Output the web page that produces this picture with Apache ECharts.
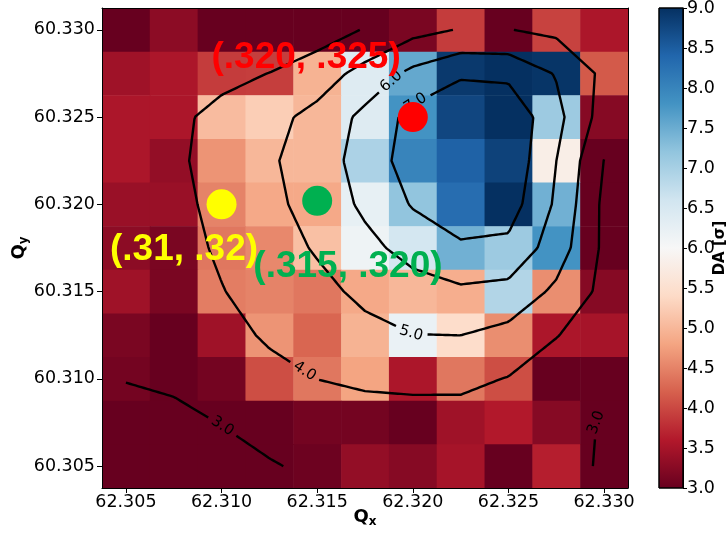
<!DOCTYPE html>
<html><head><meta charset="utf-8">
<script src="https://cdn.jsdelivr.net/npm/echarts@6/dist/echarts.min.js"></script>
<style>html,body{margin:0;padding:0;background:#fff}#c{width:728px;height:535px}</style>
</head><body><div id="c"></div>
<script>
// ---------------- data ----------------
const xValues = [62.305, 62.3075, 62.310, 62.3125, 62.315, 62.3175, 62.320, 62.3225, 62.325, 62.3275, 62.330];
const yValues = [60.330, 60.3275, 60.325, 60.3225, 60.320, 60.3175, 60.315, 60.3125, 60.310, 60.3075, 60.305];
// DA values, one row per yValues entry (top to bottom), one column per xValues entry
const daRow0  = [3.0, 3.3, 2.5, 2.5, 2.5, 2.6, 3.15, 3.9, 2.0, 3.95, 3.55];
const daRow1  = [3.45, 3.55, 3.9, 3.92, 4.95, 6.4, 7.55, 8.9, 9.0, 8.95, 4.15];
const daRow2  = [3.55, 3.55, 5.05, 5.25, 5.0, 6.4, 7.8, 8.75, 9.0, 7.1, 3.25];
const daRow3  = [3.55, 3.35, 4.65, 5.0, 5.0, 6.95, 8.0, 8.45, 8.8, 5.8, 1.7];
const daRow4  = [3.4, 3.4, 4.5, 4.85, 4.85, 6.25, 7.2, 8.3, 9.0, 7.45, 1.7];
const daRow5  = [3.3, 3.15, 4.4, 4.55, 5.1, 6.15, 6.55, 7.45, 7.1, 7.8, 1.7];
const daRow6  = [3.45, 3.15, 4.45, 4.5, 4.4, 4.85, 5.0, 4.9, 6.9, 4.6, 3.25];
const daRow7  = [3.15, 3.0, 3.45, 4.65, 4.25, 4.95, 6.2, 5.45, 4.6, 3.55, 3.5];
const daRow8  = [3.1, 3.0, 3.1, 4.05, 4.4, 4.8, 3.55, 4.4, 4.05, 3.0, 2.9];
const daRow9  = [2.8, 2.85, 2.95, 2.95, 3.1, 3.1, 3.0, 3.45, 3.6, 3.25, 2.5];
const daRow10 = [2.5, 2.6, 2.7, 2.75, 3.05, 3.35, 3.25, 3.5, 3.0, 3.65, 2.7];
const daRows = [daRow0, daRow1, daRow2, daRow3, daRow4, daRow5, daRow6, daRow7, daRow8, daRow9, daRow10];

const xTicks = [62.305, 62.310, 62.315, 62.320, 62.325, 62.330];
const yTicks = [60.305, 60.310, 60.315, 60.320, 60.325, 60.330];
const cbTicks = [3.0, 3.5, 4.0, 4.5, 5.0, 5.5, 6.0, 6.5, 7.0, 7.5, 8.0, 8.5, 9.0];
const contourLevels = [3, 4, 5, 6, 7];
// [level, Qx, Qy] : where each contour label sits
const contourLabelSpots = [
  [6, 62.31844, 60.32758],
  [7, 62.31985, 60.32644],
  [5, 62.31996, 60.31280],
  [4, 62.31410, 60.31005],
  [3, 62.30998, 60.30719],
  [3, 62.32937, 60.30765]
];
const markerPoints = [[62.320, 60.325], [62.310, 60.320], [62.315, 60.3202]];
const noteTexts = ['(.320, .325)', '(.31, .32)', '(.315, .320)'];
const notePositions = [[62.31442, 60.32839], [62.30804, 60.31739], [62.31661, 60.31641]];

// ---------------- styles ----------------
const FONT = 'DejaVu Sans';
const RDBU = ['#67001f','#b2182b','#d6604d','#f4a582','#fddbc7','#f7f7f7','#d1e5f0','#92c5de','#4393c3','#2166ac','#053061'];
const markerColors = ['#ff0000', '#ffff00', '#00b050'];

const dx = xValues[1] - xValues[0];
const dy = yValues[0] - yValues[1];
const X_MIN = xValues[0] - dx / 2, X_MAX = xValues[xValues.length - 1] + dx / 2;
const Y_MIN = yValues[yValues.length - 1] - dy / 2, Y_MAX = yValues[0] + dy / 2;

// ---------------- helpers ----------------
function gaussSmooth(grid, sigma) {
  const r = Math.ceil(4 * sigma);
  let w = [], s = 0;
  for (let k = -r; k <= r; k++) { const v = Math.exp(-k * k / (2 * sigma * sigma)); w.push(v); s += v; }
  w = w.map(v => v / s);
  const ny = grid.length, nx = grid[0].length;
  const refl = (i, n) => { while (i < 0 || i >= n) { if (i < 0) i = -i - 1; if (i >= n) i = 2 * n - i - 1; } return i; };
  const tmp = grid.map(row => row.map((_, j) => { let a = 0; for (let k = -r; k <= r; k++) a += w[k + r] * row[refl(j + k, nx)]; return a; }));
  return tmp.map((row, i) => row.map((_, j) => { let a = 0; for (let k = -r; k <= r; k++) a += w[k + r] * tmp[refl(i + k, ny)][j]; return a; }));
}

function contourPaths(z, level) {
  const ny = z.length, nx = z[0].length;
  const pts = {};
  function edge(type, i, j) {
    const key = type + i + '_' + j;
    if (!pts[key]) {
      let a, b, xa, xb, ya, yb;
      if (type === 'h') { a = z[i][j]; b = z[i][j + 1]; xa = xValues[j]; xb = xValues[j + 1]; ya = yb = yValues[i]; }
      else { a = z[i][j]; b = z[i + 1][j]; xa = xb = xValues[j]; ya = yValues[i]; yb = yValues[i + 1]; }
      const t = (level - a) / (b - a);
      pts[key] = [xa + t * (xb - xa), ya + t * (yb - ya)];
    }
    return key;
  }
  const segs = [];
  for (let i = 0; i < ny - 1; i++) for (let j = 0; j < nx - 1; j++) {
    const tl = z[i][j], tr = z[i][j + 1], br = z[i + 1][j + 1], bl = z[i + 1][j];
    const idx = (tl >= level ? 8 : 0) | (tr >= level ? 4 : 0) | (br >= level ? 2 : 0) | (bl >= level ? 1 : 0);
    if (idx === 0 || idx === 15) continue;
    const T = () => edge('h', i, j), R = () => edge('v', i, j + 1), B = () => edge('h', i + 1, j), L = () => edge('v', i, j);
    const c = (tl + tr + br + bl) / 4 >= level;
    switch (idx) {
      case 1: case 14: segs.push([L(), B()]); break;
      case 2: case 13: segs.push([B(), R()]); break;
      case 3: case 12: segs.push([L(), R()]); break;
      case 4: case 11: segs.push([T(), R()]); break;
      case 6: case 9: segs.push([T(), B()]); break;
      case 7: case 8: segs.push([L(), T()]); break;
      case 5: if (c) { segs.push([L(), T()]); segs.push([B(), R()]); } else { segs.push([T(), R()]); segs.push([L(), B()]); } break;
      case 10: if (c) { segs.push([T(), R()]); segs.push([L(), B()]); } else { segs.push([L(), T()]); segs.push([B(), R()]); } break;
    }
  }
  const adj = {};
  segs.forEach((s, k) => { (adj[s[0]] = adj[s[0]] || []).push(k); (adj[s[1]] = adj[s[1]] || []).push(k); });
  const used = segs.map(() => false);
  const paths = [];
  function extend(chain) {
    let last = chain[chain.length - 1];
    while (true) {
      const nxt = (adj[last] || []).find(k => !used[k]);
      if (nxt === undefined) break;
      used[nxt] = true;
      const other = segs[nxt][0] === last ? segs[nxt][1] : segs[nxt][0];
      chain.push(other); last = other;
      if (other === chain[0]) break;
    }
  }
  segs.forEach((s, k) => {
    if (used[k]) return;
    used[k] = true;
    let chain = [s[0], s[1]];
    extend(chain);
    chain.reverse();
    extend(chain);
    paths.push(chain.map(key => pts[key]));
  });
  return paths;
}

function densify(path) {
  const out = [path[0]];
  for (let k = 0; k < path.length - 1; k++) {
    const A = path[k], B = path[k + 1];
    const n = Math.max(1, Math.ceil(Math.hypot(B[0] - A[0], B[1] - A[1])));
    for (let s = 1; s <= n; s++) out.push([A[0] + (B[0] - A[0]) * s / n, A[1] + (B[1] - A[1]) * s / n]);
  }
  return out;
}

// ---------------- chart ----------------
const chart = echarts.init(document.getElementById('c'), null, { renderer: 'canvas' });

const nameRich = {
  q: { fontSize: 18, fontWeight: 'bold', fontFamily: FONT, color: '#000' },
  s: { fontSize: 12, fontWeight: 'bold', fontFamily: FONT, color: '#000', padding: [10, 0, 0, 0] }
};

const cellData = [];
yValues.forEach((y, i) => xValues.forEach((x, j) => {
  const v = daRows[i][j];
  cellData.push([x, y, v, Math.min(9, Math.max(3, v))]);
}));

const frameLine = { show: true, onZero: false, lineStyle: { color: '#000', width: 1 } };
const tickLabel = { fontSize: 17.5, color: '#000', fontFamily: FONT };

function baseOption(series) {
  return {
    animation: false,
    textStyle: { fontFamily: FONT },
    grid: [
      { left: 102, top: 8, width: 526, height: 480, outerBoundsMode: 'none' },
      { left: 659, top: 8, width: 24, height: 480, outerBoundsMode: 'none' }
    ],
    xAxis: [
      { type: 'value', gridIndex: 0, position: 'bottom', min: X_MIN, max: X_MAX, z: 10,
        axisLine: frameLine,
        axisTick: { show: true, customValues: xTicks, length: 5, lineStyle: { color: '#000' } },
        axisLabel: Object.assign({ customValues: xTicks, formatter: v => v.toFixed(3), margin: 5 }, tickLabel),
        splitLine: { show: false },
        name: '{q|Q}{s|x}', nameLocation: 'middle', nameGap: 18, nameMoveOverlap: false, nameTextStyle: { rich: nameRich } },
      { type: 'value', gridIndex: 0, position: 'top', min: X_MIN, max: X_MAX, z: 10,
        axisLine: frameLine, axisTick: { show: false }, axisLabel: { show: false }, splitLine: { show: false } },
      { type: 'value', gridIndex: 1, min: 0, max: 1, show: false }
    ],
    yAxis: [
      { type: 'value', gridIndex: 0, position: 'left', min: Y_MIN, max: Y_MAX, z: 10,
        axisLine: frameLine,
        axisTick: { show: true, customValues: yTicks, length: 5, lineStyle: { color: '#000' } },
        axisLabel: Object.assign({ customValues: yTicks, formatter: v => v.toFixed(3), margin: 7 }, tickLabel),
        splitLine: { show: false },
        name: '{q|Q}{s|y}', nameLocation: 'middle', nameRotate: 90, nameGap: 72, nameMoveOverlap: false, nameTextStyle: { rich: nameRich } },
      { type: 'value', gridIndex: 0, position: 'right', min: Y_MIN, max: Y_MAX, z: 10,
        axisLine: frameLine, axisTick: { show: false }, axisLabel: { show: false }, splitLine: { show: false } },
      { type: 'value', gridIndex: 1, position: 'right', min: 3, max: 9, z: 10,
        axisLine: frameLine,
        axisTick: { show: true, customValues: cbTicks, length: 4, lineStyle: { color: '#000' } },
        axisLabel: Object.assign({ customValues: cbTicks, formatter: v => v.toFixed(1), margin: 4 }, tickLabel),
        splitLine: { show: false },
        name: 'DA [σ]', nameLocation: 'middle', nameRotate: 90, nameGap: 30, nameMoveOverlap: false,
        nameTextStyle: { fontSize: 15, fontWeight: 'bold', color: '#000', fontFamily: FONT } }
    ],
    visualMap: [{ type: 'continuous', show: false, min: 3, max: 9, dimension: 3, seriesIndex: 0, inRange: { color: RDBU } }],
    series: series
  };
}

const heatSeries = {
  type: 'custom', xAxisIndex: 0, yAxisIndex: 0, data: cellData, clip: true, z: 1, silent: true,
  encode: { x: 0, y: 1 },
  renderItem: (params, api) => {
    const x = api.value(0), y = api.value(1);
    const a = api.coord([x - dx / 2, y + dy / 2]), b = api.coord([x + dx / 2, y - dy / 2]);
    return { type: 'rect', shape: { x: a[0], y: a[1], width: b[0] - a[0] + 0.6, height: b[1] - a[1] + 0.6 },
             style: { fill: api.visual('color') } };
  }
};

const colorbarSeries = {
  type: 'custom', xAxisIndex: 2, yAxisIndex: 2, data: [[0, cbTicks[0], cbTicks[cbTicks.length - 1]]], z: 1, silent: true,
  renderItem: (params, api) => {
    const a = api.coord([0, api.value(2)]), b = api.coord([1, api.value(1)]);
    return { type: 'rect', shape: { x: a[0], y: a[1], width: b[0] - a[0], height: b[1] - a[1] },
      style: { fill: new echarts.graphic.LinearGradient(0, 1, 0, 0, RDBU.map((c, i) => ({ offset: i / (RDBU.length - 1), color: c }))),
               stroke: '#000', lineWidth: 1 } };
  }
};

const markerSeries = {
  type: 'scatter', xAxisIndex: 0, yAxisIndex: 0, z: 5, silent: true, symbolSize: 30,
  data: markerPoints.map((p, i) => ({ value: p, itemStyle: { color: markerColors[i], opacity: 1 } }))
};

const noteSeries = {
  type: 'scatter', xAxisIndex: 0, yAxisIndex: 0, z: 6, silent: true, symbolSize: 1,
  itemStyle: { color: 'rgba(0,0,0,0)', opacity: 1 },
  label: { show: true, position: 'inside', fontSize: 37, fontWeight: 'bold', fontFamily: 'Liberation Sans, Arial, sans-serif',
           opacity: 1, textBorderWidth: 0 },
  labelLayout: { hideOverlap: false },
  data: notePositions.map((p, i) => ({ value: p, label: { formatter: noteTexts[i], color: markerColors[i] } }))
};

chart.setOption(baseOption([heatSeries, colorbarSeries, markerSeries, noteSeries]));

// contours from a smoothed copy of the grid
const field = gaussSmooth(daRows, 1);
const toPx = p => chart.convertToPixel({ xAxisIndex: 0, yAxisIndex: 0 }, p);
const fromPx = p => chart.convertFromPixel({ xAxisIndex: 0, yAxisIndex: 0 }, p);

const lineSeries = [];
const labelData = [];
contourLevels.forEach(lv => {
  const dense = contourPaths(field, lv).map(path => densify(path.map(toPx)));
  const spots = [];
  contourLabelSpots.filter(s => s[0] === lv).forEach(s => {
    const q = toPx([s[1], s[2]]);
    let best = null;
    dense.forEach((d, pi) => d.forEach((P, k) => {
      const dd = Math.hypot(P[0] - q[0], P[1] - q[1]);
      if (!best || dd < best.d) best = { d: dd, pi, k };
    }));
    if (!best) return;
    const d = dense[best.pi];
    const A = d[Math.max(0, best.k - 10)], B = d[Math.min(d.length - 1, best.k + 10)];
    let ang = Math.atan2(-(B[1] - A[1]), B[0] - A[0]) * 180 / Math.PI;
    if (ang > 90) ang -= 180;
    if (ang < -90) ang += 180;
    const P = d[best.k];
    spots.push(P);
    labelData.push({ value: fromPx(P), label: { rotate: ang, formatter: lv.toFixed(1) } });
  });
  const R = 16;
  dense.forEach(d => {
    let run = [];
    const flush = () => { if (run.length > 1) lineSeries.push(run.map(fromPx)); run = []; };
    d.forEach(P => {
      const inside = spots.some(S => Math.hypot(P[0] - S[0], P[1] - S[1]) < R);
      if (inside) flush(); else run.push(P);
    });
    flush();
  });
});

const contourSeries = lineSeries.map(data => ({
  type: 'line', xAxisIndex: 0, yAxisIndex: 0, data, showSymbol: false, symbol: 'none', z: 3, silent: true,
  lineStyle: { color: '#000', width: 2.4 }, clip: true
}));

const contourLabelSeries = {
  type: 'scatter', xAxisIndex: 0, yAxisIndex: 0, z: 4, silent: true, symbolSize: 1,
  itemStyle: { color: 'rgba(0,0,0,0)', opacity: 1 },
  label: { show: true, position: 'inside', fontSize: 15, fontFamily: FONT, color: '#000', textBorderWidth: 0 },
  labelLayout: { hideOverlap: false },
  data: labelData
};

chart.setOption(baseOption([heatSeries, colorbarSeries].concat(contourSeries, [contourLabelSeries, markerSeries, noteSeries])), true);
</script></body></html>
